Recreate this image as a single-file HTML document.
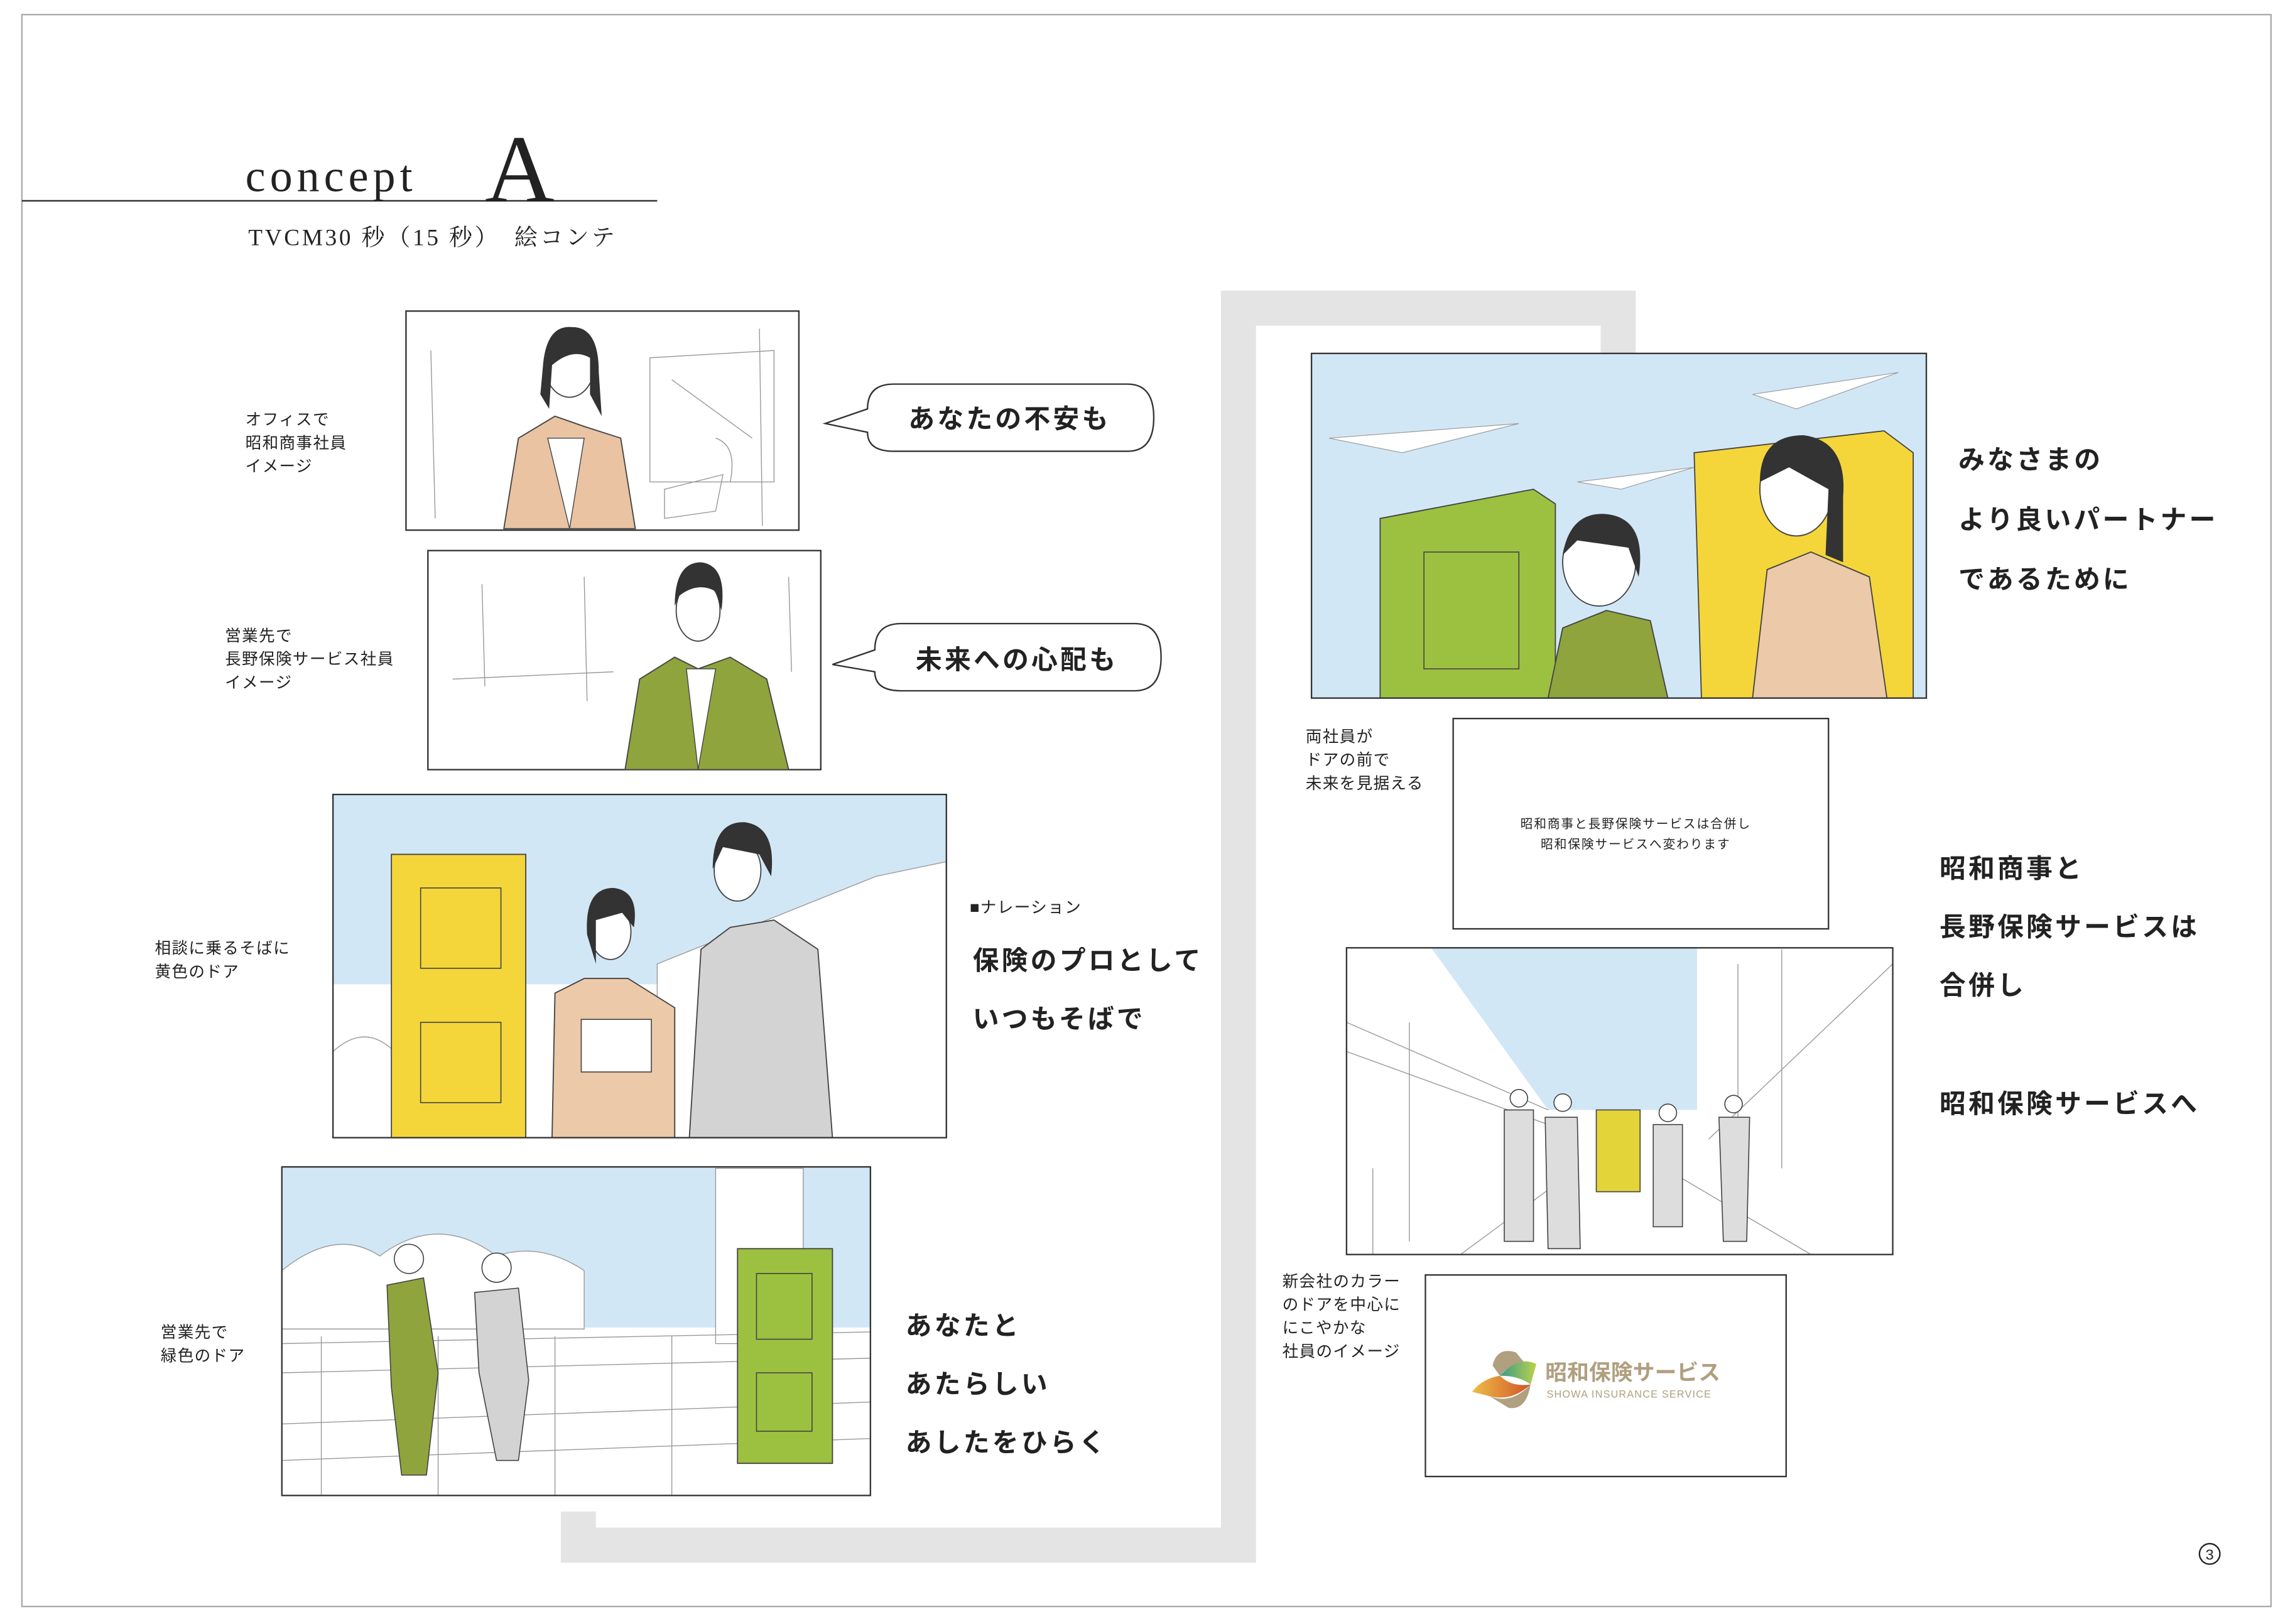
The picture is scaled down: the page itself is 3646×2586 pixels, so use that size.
<!DOCTYPE html>
<html><head><meta charset="utf-8"><style>
html,body{margin:0;padding:0;background:#fff;}
svg{display:block;}
text{font-family:"Liberation Sans","Noto Sans CJK JP",sans-serif;fill:#222;}
.s{font-size:11px;letter-spacing:0.6px;}
.b{font-size:18px;font-weight:bold;letter-spacing:1.8px;}
.f{fill:none;stroke:#333;stroke-width:1;}
.l{fill:none;stroke:#999;stroke-width:0.6;}
</style></head><body>
<svg width="3646" height="2586" viewBox="0 0 1568 1112" preserveAspectRatio="none" xmlns="http://www.w3.org/2000/svg">
<rect x="0" y="0" width="1568" height="1112" fill="#fff"/>
<rect x="15" y="10" width="1540" height="1090" fill="none" stroke="#aaa" stroke-width="1"/>
<text x="168" y="131" style="font-family:'Liberation Serif','Noto Serif CJK SC',serif;font-size:31px;letter-spacing:3px">concept</text>
<text x="332" y="138" style="font-family:'Liberation Serif','Noto Serif CJK SC',serif;font-size:66px">A</text>
<line x1="15" y1="137.5" x2="450" y2="137.5" stroke="#222" stroke-width="1"/>
<text x="170" y="168" style="font-family:'Liberation Serif','Noto Serif CJK SC',serif;font-size:16px;letter-spacing:1.6px">TVCM30 秒（15 秒）　絵コンテ</text>
<polyline points="396,1035 396,1058 848,1058 848,211 1108,211 1108,245" fill="none" stroke="#e4e4e4" stroke-width="24"/>
<!-- panel 1 -->
<rect x="278" y="213" width="269" height="150" fill="#fff" class="f"/>
<path class="l" d="M295 240 L298 355 M520 225 L522 360 M445 245 L530 240 L530 330 L445 330 Z M460 260 L515 300"/>
<path d="M345 362 L355 300 L380 285 L400 292 L425 300 L435 362 Z" fill="#e9c3a2" stroke="#444" stroke-width="0.8"/>
<path d="M375 300 L390 362 L400 300 Z" fill="#fff" stroke="#444" stroke-width="0.6"/>
<ellipse cx="390" cy="250" rx="17" ry="22" fill="#fff" stroke="#444" stroke-width="0.8"/>
<path d="M372 248 Q375 222 392 224 Q410 224 410 255 L412 285 L404 270 L404 245 Q392 238 378 250 L376 280 L370 270 Z" fill="#333"/>
<path class="l" d="M455 335 L495 325 L490 350 L455 355 Z M490 300 Q505 305 500 330"/>
<text class="s" x="168" y="291">オフィスで</text>
<text class="s" x="168" y="307">昭和商事社員</text>
<text class="s" x="168" y="323">イメージ</text>
<path d="M612 263 L772 263 Q790 263 790 286 Q790 309 772 309 L612 309 Q594 309 594 296 L565 290 L594 280 Q594 263 612 263 Z" fill="#fff" stroke="#333" stroke-width="1"/>
<text class="b" x="622" y="293">あなたの不安も</text>
<!-- panel 2 -->
<rect x="293" y="377" width="269" height="150" fill="#fff" class="f"/>
<path class="l" d="M330 400 L332 470 M400 395 L402 480 M540 395 L542 460 M310 465 L420 460"/>
<path d="M428 527 L438 465 L462 450 L478 458 L500 450 L525 465 L540 527 Z" fill="#8fa43d" stroke="#444" stroke-width="0.8"/>
<path d="M470 458 L478 527 L490 458 Z" fill="#fff" stroke="#444" stroke-width="0.6"/>
<ellipse cx="478" cy="418" rx="15" ry="21" fill="#fff" stroke="#444" stroke-width="0.8"/>
<path d="M462 415 Q462 385 480 385 Q498 387 494 418 L490 405 Q478 398 465 408 Z" fill="#333"/>
<text class="s" x="154" y="439">営業先で</text>
<text class="s" x="154" y="455">長野保険サービス社員</text>
<text class="s" x="154" y="471">イメージ</text>
<path d="M617 427 L777 427 Q795 427 795 450 Q795 473 777 473 L617 473 Q599 473 599 460 L570 455 L599 445 Q599 427 617 427 Z" fill="#fff" stroke="#333" stroke-width="1"/>
<text class="b" x="627" y="458">未来への心配も</text>
<!-- panel 3 -->
<rect x="228" y="544" width="420" height="235" fill="#fff"/>
<rect x="228" y="544" width="420" height="130" fill="#d2e7f6"/>
<path d="M450 660 L600 600 L648 590 L648 779 L450 779 Z" fill="#fff" stroke="#999" stroke-width="0.6"/>
<path d="M228 720 Q250 700 270 720 L270 779 L228 779 Z" fill="#fff" stroke="#999" stroke-width="0.6"/>
<rect x="268" y="585" width="92" height="194" fill="#f4d63a" stroke="#444" stroke-width="0.8"/>
<rect x="288" y="608" width="55" height="55" fill="none" stroke="#444" stroke-width="0.7"/>
<rect x="288" y="700" width="55" height="55" fill="none" stroke="#444" stroke-width="0.7"/>
<path d="M378 779 L380 680 L400 670 L430 670 L462 690 L462 779 Z" fill="#ecc9a8" stroke="#444" stroke-width="0.8"/>
<rect x="398" y="698" width="48" height="36" fill="#fff" stroke="#444" stroke-width="0.7"/>
<ellipse cx="418" cy="638" rx="14" ry="19" fill="#fff" stroke="#444" stroke-width="0.8"/>
<path d="M402 640 Q400 608 420 608 Q438 610 434 635 L426 625 L408 630 L408 660 Z" fill="#333"/>
<path d="M472 779 L480 650 L500 635 L530 630 L560 650 L570 779 Z" fill="#d3d3d3" stroke="#444" stroke-width="0.8"/>
<ellipse cx="505" cy="596" rx="16" ry="21" fill="#fff" stroke="#444" stroke-width="0.8"/>
<path d="M488 595 Q488 562 510 563 Q532 566 528 600 L520 585 L495 580 Z" fill="#333"/>
<rect x="228" y="544" width="420" height="235" fill="none" class="f"/>
<text class="s" x="106" y="653">相談に乗るそばに</text>
<text class="s" x="106" y="669">黄色のドア</text>
<text class="s" x="664" y="625">■ナレーション</text>
<text class="b" x="666" y="664">保険のプロとして</text>
<text class="b" x="666" y="704">いつもそばで</text>
<!-- panel 4 -->
<rect x="193" y="799" width="403" height="225" fill="#fff"/>
<rect x="193" y="799" width="403" height="110" fill="#d2e7f6"/>
<path d="M193 870 Q230 840 260 860 Q300 830 340 860 Q370 850 400 870 L400 910 L193 910 Z" fill="#fff" stroke="#999" stroke-width="0.6"/>
<rect x="490" y="800" width="60" height="120" fill="#fff" stroke="#999" stroke-width="0.6"/>
<path class="l" d="M193 920 L596 912 M193 940 L596 930 M193 975 L596 960 M193 1000 L596 985 M220 915 L220 1024 M300 915 L300 1024 M380 915 L380 1024 M460 915 L460 1024"/>
<path d="M265 880 L290 875 L300 940 L292 1010 L275 1010 L268 950 Z" fill="#8fa43d" stroke="#444" stroke-width="0.7"/>
<circle cx="280" cy="862" r="10" fill="#fff" stroke="#444" stroke-width="0.7"/>
<path d="M325 885 L355 882 L362 945 L355 1000 L340 1000 L328 940 Z" fill="#d3d3d3" stroke="#444" stroke-width="0.7"/>
<circle cx="340" cy="868" r="10" fill="#fff" stroke="#444" stroke-width="0.7"/>
<rect x="505" y="855" width="65" height="147" fill="#9cc140" stroke="#444" stroke-width="0.8"/>
<rect x="518" y="872" width="38" height="45" fill="none" stroke="#444" stroke-width="0.7"/>
<rect x="518" y="940" width="38" height="40" fill="none" stroke="#444" stroke-width="0.7"/>
<rect x="193" y="799" width="403" height="225" fill="none" class="f"/>
<text class="s" x="110" y="916">営業先で</text>
<text class="s" x="110" y="932">緑色のドア</text>
<text class="b" x="620" y="914">あなたと</text>
<text class="b" x="620" y="954">あたらしい</text>
<text class="b" x="620" y="994">あしたをひらく</text>
<!-- panel 5 -->
<rect x="898" y="242" width="421" height="236" fill="#d2e7f6"/>
<path d="M910 300 L1040 290 L960 310 Z M1200 270 L1300 255 L1230 280 Z M1080 330 L1160 320 L1110 335 Z" fill="#fff" stroke="#999" stroke-width="0.5"/>
<path d="M945 355 L1050 335 L1065 345 L1065 478 L945 478 Z" fill="#9cc140" stroke="#444" stroke-width="0.8"/>
<rect x="975" y="378" width="65" height="80" fill="none" stroke="#444" stroke-width="0.7"/>
<path d="M1160 310 L1290 295 L1310 310 L1310 478 L1165 478 Z" fill="#f4d63a" stroke="#444" stroke-width="0.8"/>
<path d="M1060 478 L1070 430 L1100 418 L1130 425 L1142 478 Z" fill="#8fa43d" stroke="#444" stroke-width="0.8"/>
<ellipse cx="1095" cy="385" rx="25" ry="30" fill="#fff" stroke="#444" stroke-width="0.8"/>
<path d="M1070 380 Q1075 350 1100 352 Q1128 355 1122 395 L1115 375 L1080 370 Z" fill="#333"/>
<path d="M1200 478 L1210 390 L1240 378 L1280 395 L1292 478 Z" fill="#ecc9a8" stroke="#444" stroke-width="0.8"/>
<ellipse cx="1230" cy="335" rx="25" ry="32" fill="#fff" stroke="#444" stroke-width="0.8"/>
<path d="M1205 330 Q1205 298 1235 298 Q1265 302 1262 340 L1262 385 L1250 380 L1252 335 L1225 320 Z" fill="#333"/>
<rect x="898" y="242" width="421" height="236" fill="none" class="f"/>
<text class="b" x="1341" y="321">みなさまの</text>
<text class="b" x="1341" y="362">より良いパートナー</text>
<text class="b" x="1341" y="403">であるために</text>
<text class="s" x="894" y="508">両社員が</text>
<text class="s" x="894" y="524">ドアの前で</text>
<text class="s" x="894" y="540">未来を見据える</text>
<!-- panel 6 -->
<rect x="995" y="492" width="257" height="144" fill="#fff" class="f"/>
<text x="1120" y="567" text-anchor="middle" style="font-size:8.5px;letter-spacing:0.8px">昭和商事と長野保険サービスは合併し</text>
<text x="1120" y="581" text-anchor="middle" style="font-size:8.5px;letter-spacing:0.8px">昭和保険サービスへ変わります</text>
<text class="b" x="1328" y="601">昭和商事と</text>
<text class="b" x="1328" y="641">長野保険サービスは</text>
<text class="b" x="1328" y="681">合併し</text>
<text class="b" x="1328" y="762">昭和保険サービスへ</text>
<!-- panel 7 -->
<rect x="922" y="649" width="374" height="210" fill="#fff"/>
<path d="M980 649 L1162 649 L1162 760 L1060 760 Z" fill="#d2e7f6"/>
<path class="l" d="M922 700 L1060 760 M922 720 L1060 770 M965 700 L965 850 M1190 660 L1190 790 M1220 650 L1220 800 M1296 660 L1170 780 M1000 859 L1080 800 M1240 859 L1140 800 M940 800 L940 859"/>
<rect x="1093" y="760" width="30" height="56" fill="#e3d43a" stroke="#444" stroke-width="0.7"/>
<path d="M1030 760 L1050 760 L1050 850 L1030 850 Z M1058 765 L1080 765 L1082 855 L1060 855 Z M1132 770 L1152 770 L1152 840 L1132 840 Z M1177 765 L1198 765 L1196 850 L1180 850 Z" fill="#ddd" stroke="#444" stroke-width="0.7"/>
<circle cx="1040" cy="752" r="6" fill="#fff" stroke="#444" stroke-width="0.7"/>
<circle cx="1070" cy="755" r="6" fill="#fff" stroke="#444" stroke-width="0.7"/>
<circle cx="1142" cy="762" r="6" fill="#fff" stroke="#444" stroke-width="0.7"/>
<circle cx="1187" cy="756" r="6" fill="#fff" stroke="#444" stroke-width="0.7"/>
<rect x="922" y="649" width="374" height="210" fill="none" class="f"/>
<text class="s" x="878" y="881">新会社のカラー</text>
<text class="s" x="878" y="897">のドアを中心に</text>
<text class="s" x="878" y="913">にこやかな</text>
<text class="s" x="878" y="929">社員のイメージ</text>
<!-- panel 8 -->
<rect x="976" y="873" width="247" height="138" fill="#fff" class="f"/>
<defs>
<linearGradient id="g1" x1="0" x2="1"><stop offset="0" stop-color="#3a9a8a"/><stop offset="1" stop-color="#bcd24a"/></linearGradient>
<linearGradient id="g2" x1="0" x2="1"><stop offset="0" stop-color="#edbd45"/><stop offset="1" stop-color="#d2552a"/></linearGradient>
</defs>
<path d="M1022 935 Q1025 922 1038 926 L1047 937 Q1035 932 1027 942 Z" fill="#b0a080"/>
<path d="M1027 942 Q1040 928 1052 934 L1048 948 Q1040 942 1027 942 Z" fill="url(#g1)"/>
<path d="M1008 953 Q1015 944 1027 942 Q1035 950 1048 948 Q1035 960 1020 956 Z" fill="url(#g2)"/>
<path d="M1020 956 Q1035 962 1048 948 Q1045 966 1033 964 Z" fill="#b0a080"/>
<text x="1058" y="945" style="font-size:15px;font-weight:bold;fill:#b0a080">昭和保険サービス</text>
<text x="1059" y="957" style="font-size:7px;fill:#b0a080;letter-spacing:0.5px">SHOWA INSURANCE SERVICE</text>
<circle cx="1513" cy="1064" r="7" fill="none" stroke="#222" stroke-width="1"/>
<text x="1513" y="1068" text-anchor="middle" style="font-size:10px">3</text>
</svg>
</body></html>
